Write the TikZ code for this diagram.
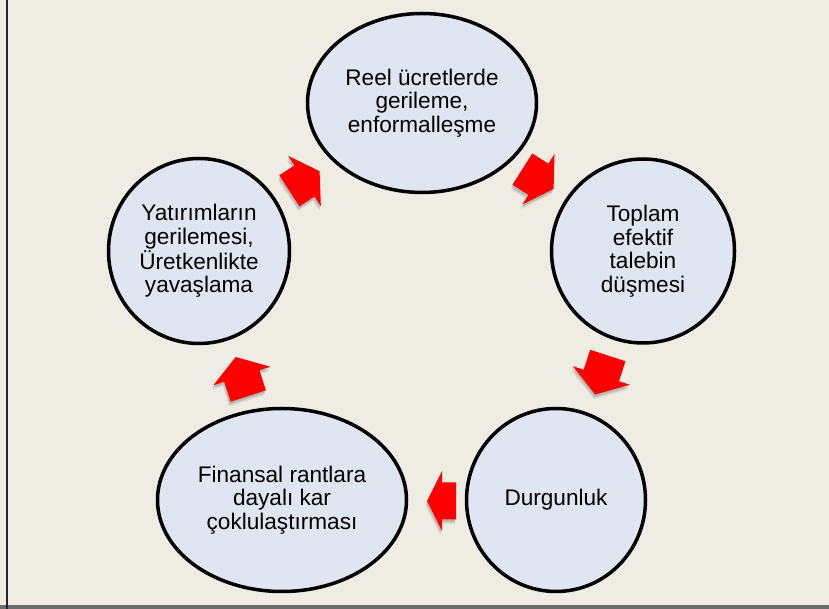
\documentclass[tikz,border=0pt]{standalone}
\usepackage{fontspec}
\setmainfont{Liberation Sans}
\usetikzlibrary{shapes.geometric}
\definecolor{bg}{HTML}{EFECE4}
\definecolor{ellfill}{HTML}{DFE6F1}
\definecolor{arrred}{HTML}{FF0000}
\definecolor{framegray}{HTML}{6B6B6B}
\newcommand\arrowshape{(-\ah,18.5) -- (\as,18.5) -- (\as,30) -- (\ah,0) -- (\as,-30) -- (\as,-18.5) -- (-\ah,-18.5) -- cycle}
\newcommand\cyclearrow[5]{%
  \pgfmathsetmacro\ah{(#4+#5)/2}%
  \pgfmathsetmacro\as{#4-(#4+#5)/2}%
  \foreach \d/\o in {5/0.04,4/0.06,3/0.08,2/0.07}{%
    \fill[black,opacity=\o,shift={(#1-0.3*\d,#2-\d)},rotate=#3] \arrowshape;}
  \fill[arrred,shift={(#1,#2)},rotate=#3] \arrowshape;}
\tikzset{
  cell/.style={ellipse, draw=black, line width=3.5pt, fill=ellfill, inner sep=0pt,
    align=center, text=black, font=\fontsize{22.6}{23.5}\selectfont}
}
\begin{document}
\begin{tikzpicture}[x=1pt,y=1pt]
\useasboundingbox (0,0) rectangle (829,609);
\fill[bg] (0,0) rectangle (829,609);
\fill[framegray] (0,0) rectangle (829,4);
\draw[line width=2pt, black!85] (7,0) -- (7,609);

\node[cell, minimum width=229pt, minimum height=179pt] (top) at (422,506)
  {Reel ücretlerde\\gerileme,\\enformalleşme};
\node[cell, minimum width=183pt, minimum height=184pt] (right) at (643,358)
  {Toplam\\efektif\\talebin\\düşmesi};
\node[cell, minimum width=179pt, minimum height=183pt] (durg) at (556,109)
  {Durgunluk};
\node[cell, minimum width=249pt, minimum height=183pt] (fin) at (282,109)
  {Finansal rantlara\\dayalı kar\\çoklulaştırması};
\node[cell, minimum width=181pt, minimum height=185pt] (left) at (199,358)
  {Yatırımların\\gerilemesi,\\Üretkenlikte\\yavaşlama};

\cyclearrow{538}{430}{-32.5}{19}{18}
\cyclearrow{601.5}{234}{-108}{21}{20}
\cyclearrow{441.5}{108}{180}{14}{15}
\cyclearrow{242}{232.5}{108}{21}{20}
\cyclearrow{304.5}{428}{33}{18}{18}
\end{tikzpicture}
\end{document}
